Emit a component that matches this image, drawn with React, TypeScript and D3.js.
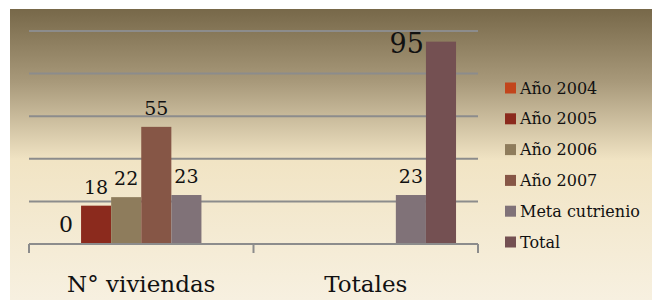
import React from 'react';
import * as d3 from 'd3';

// chart data
const categories = ['N° viviendas', 'Totales'];
const series = ['Año 2004', 'Año 2005', 'Año 2006', 'Año 2007', 'Meta cutrienio', 'Total'];
const viviendas = [0, 18, 22, 55, 23, null];
const totales = [null, null, null, null, 23, 95];
const colors = ['#c2451c', '#8b2a1d', '#8e7c5c', '#865646', '#807278', '#745052'];
const yTicks = [0, 20, 40, 60, 80, 100];

const W = 652;
const H = 300;
const FONT = "'DejaVu Serif', serif";

const PLOT_LEFT = 29;
const PLOT_RIGHT = 478;
const PLOT_TOP = 31;
const PLOT_BOTTOM = 244;

export default function App() {
  const x0 = d3.scaleBand().domain(categories).range([PLOT_LEFT, PLOT_RIGHT]);
  const x1 = d3.scaleBand().domain(series).range([0, x0.bandwidth()]).paddingOuter(0.73);
  const y = d3.scaleLinear().domain([0, 100]).range([PLOT_BOTTOM, PLOT_TOP]);
  const legendY = d3.scalePoint().domain(series).range([88, 242]);

  const rows = [viviendas, totales];

  return (
    <svg width={W} height={H} style={{ position: 'absolute', left: 0, top: 0, fontFamily: FONT }}>
      <defs>
        <linearGradient id="bg" x1="0" y1="0" x2="0" y2="1">
          <stop offset="0" stopColor="#776849" />
          <stop offset="0.25" stopColor="#a8997a" />
          <stop offset="0.52" stopColor="#f1e4c4" />
          <stop offset="1" stopColor="#f7f0e0" />
        </linearGradient>
      </defs>
      <rect x={10} y={9} width={W - 10} height={H - 9} fill="url(#bg)" />

      {/* gridlines */}
      {yTicks.slice(1).map((t) => (
        <line key={t} x1={PLOT_LEFT} x2={PLOT_RIGHT} y1={y(t)} y2={y(t)} stroke="#8c8c8c" strokeWidth={2} />
      ))}

      {/* bars */}
      {rows.map((vals, ci) => (
        <g key={ci} transform={`translate(${x0(categories[ci])},0)`}>
          {vals.map((v, si) =>
            v === null ? null : (
              <rect
                key={si}
                x={x1(series[si])}
                y={y(v)}
                width={x1.bandwidth()}
                height={PLOT_BOTTOM - y(v)}
                fill={colors[si]}
              />
            )
          )}
        </g>
      ))}

      {/* x axis */}
      <line x1={PLOT_LEFT} x2={PLOT_RIGHT} y1={PLOT_BOTTOM} y2={PLOT_BOTTOM} stroke="#8c8c8c" strokeWidth={2} />
      {[...categories.map((c) => x0(c)!), PLOT_RIGHT].map((xx, i) => (
        <line key={i} x1={xx} x2={xx} y1={PLOT_BOTTOM} y2={PLOT_BOTTOM + 9} stroke="#8c8c8c" strokeWidth={2} />
      ))}
      {categories.map((c) => (
        <text key={c} x={x0(c)! + x0.bandwidth() / 2} y={292} textAnchor="middle" fontSize={23} fill="#111">
          {c}
        </text>
      ))}

      {/* data labels */}
      {rows.map((vals, ci) =>
        vals.map((v, si) => {
          if (v === null) return null;
          const bx = x0(categories[ci])! + x1(series[si])!;
          if (series[si] === 'Total') {
            // total label sits to the left of its bar
            return (
              <text key={`${ci}-${si}`} x={bx - 2} y={y(v) + 11} textAnchor="end" fontSize={27} fill="#111">
                {v}
              </text>
            );
          }
          return (
            <text
              key={`${ci}-${si}`}
              x={bx + x1.bandwidth() / 2}
              y={y(v) - 12}
              textAnchor="middle"
              fontSize={v === 0 ? 22 : 19}
              fill="#111"
            >
              {v}
            </text>
          );
        })
      )}

      {/* legend */}
      {series.map((s, i) => (
        <g key={s} transform={`translate(505,${legendY(s)})`}>
          <rect x={0} y={-5.5} width={11} height={11} fill={colors[i]} />
          <text x={15} y={0} dy="0.35em" fontSize={16} fill="#111">
            {s}
          </text>
        </g>
      ))}
    </svg>
  );
}
